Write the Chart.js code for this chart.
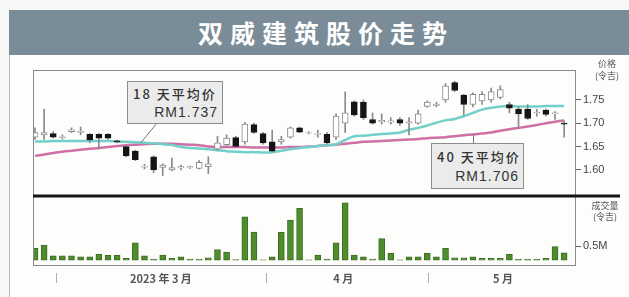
<!DOCTYPE html>
<html><head><meta charset="utf-8">
<script src="https://cdn.jsdelivr.net/npm/chart.js@4"></script>
<style>
html,body{margin:0;padding:0;background:#f8f8f7;}
#wrap{position:relative;width:629px;height:297px;overflow:hidden;}
#title{position:absolute;left:9px;top:10px;width:620px;height:45px;background:#7b8c99;color:#fff;font:700 25px "Noto Sans CJK SC";letter-spacing:7px;text-align:center;line-height:45px;text-indent:14px;}
#panel{position:absolute;left:9px;top:55px;width:620px;height:242px;background:#fdfdfc;border-left:1px solid #b8b8b8;}
canvas{position:absolute;left:0;top:0;}
.box{position:absolute;background:#ebebeb;border:1px solid #8c8c8c;color:#333;}
.l1{position:absolute;left:5px;font:500 13px "Noto Sans CJK SC";letter-spacing:2px;white-space:nowrap;}
.l2{position:absolute;right:4px;font:500 14px "Liberation Sans";letter-spacing:1px;white-space:nowrap;}
.ax{position:absolute;color:#555;font:9px "Noto Sans CJK SC";white-space:nowrap;text-align:center;}
</style></head>
<body><div id="wrap">
<div id="title">双威建筑股价走势</div>
<div id="panel"></div>
<canvas id="c" width="629" height="297"></canvas>
<div class="box" style="left:127px;top:81px;width:94px;height:41px;">
  <div class="l1" style="top:2px;">18 天平均价</div>
  <div class="l2" style="top:22px;">RM1.737</div>
</div>
<div class="box" style="left:431px;top:143px;width:91px;height:44px;">
  <div class="l1" style="top:3px;">40 天平均价</div>
  <div class="l2" style="top:24px;">RM1.706</div>
</div>
<div class="ax" style="left:592px;top:57px;width:30px;">价格</div>
<div class="ax" style="left:590px;top:69px;width:34px;">(令吉)</div>
<div class="ax" style="left:588px;top:199px;width:34px;">成交量</div>
<div class="ax" style="left:588px;top:210px;width:34px;">(令吉)</div>
</div>
<script>
const openP = [1.670,1.675,1.678,1.669,1.682,1.680,1.676,1.676,1.676,1.662,
  1.650,1.640,1.606,1.628,1.605,1.600,1.604,1.605,1.603,1.607,
  1.645,1.654,1.669,1.660,1.697,1.678,1.660,1.660,1.670,1.690,
  1.679,1.676,1.676,1.670,1.700,1.746,1.745,1.708,1.703,1.702,
  1.708,1.700,1.700,1.736,1.738,1.750,1.787,1.760,1.740,1.748,
  1.750,1.755,1.740,1.730,1.730,1.722,1.728,1.720,1.700];
const highP = [1.690,1.730,1.682,1.675,1.690,1.692,1.678,1.678,1.678,1.664,
  1.652,1.642,1.612,1.630,1.613,1.625,1.610,1.608,1.620,1.628,
  1.672,1.675,1.672,1.702,1.700,1.680,1.685,1.672,1.692,1.692,
  1.682,1.685,1.680,1.720,1.767,1.748,1.750,1.722,1.720,1.712,
  1.712,1.712,1.728,1.748,1.745,1.785,1.790,1.762,1.765,1.768,
  1.775,1.780,1.745,1.735,1.740,1.730,1.730,1.725,1.705];
const lowP = [1.665,1.665,1.668,1.666,1.680,1.675,1.658,1.645,1.665,1.658,
  1.628,1.620,1.602,1.594,1.588,1.598,1.600,1.603,1.602,1.592,
  1.642,1.652,1.648,1.655,1.678,1.655,1.638,1.655,1.668,1.680,
  1.677,1.670,1.655,1.665,1.680,1.715,1.708,1.698,1.698,1.698,
  1.695,1.675,1.698,1.734,1.735,1.745,1.768,1.718,1.735,1.740,
  1.745,1.752,1.722,1.688,1.708,1.715,1.715,1.708,1.670];
const closeP = [1.680,1.680,1.670,1.671,1.686,1.683,1.664,1.668,1.668,1.660,
  1.630,1.622,1.608,1.600,1.610,1.605,1.607,1.607,1.616,1.613,
  1.658,1.668,1.650,1.698,1.680,1.658,1.640,1.665,1.690,1.681,
  1.680,1.678,1.658,1.715,1.722,1.718,1.712,1.700,1.706,1.705,
  1.700,1.703,1.720,1.745,1.741,1.780,1.770,1.740,1.762,1.762,
  1.768,1.772,1.732,1.720,1.710,1.724,1.719,1.722,1.698];
const volumeM = [0.42,0.54,0.15,0.15,0.15,0.12,0.12,0.21,0.17,0.17,
  0.06,0.62,0.15,0.04,0.18,0.06,0.12,0.04,0.03,0.08,
  0.38,0.29,0.02,1.55,1.00,0.01,0.12,0.99,1.43,1.85,
  0.01,0.18,0.04,0.62,2.05,0.18,0.12,0.04,0.77,0.24,
  0.01,0.12,0.12,0.24,0.12,0.42,0.08,0.08,0.12,0.06,
  0.06,0.06,0.21,0.03,0.03,0.03,0.06,0.48,0.26];
const ma18 = [1.661,1.661,1.662,1.662,1.662,1.662,1.662,1.662,1.662,1.661,
  1.660,1.659,1.658,1.657,1.655,1.653,1.649,1.647,1.646,1.644,
  1.642,1.640,1.639,1.638,1.638,1.637,1.638,1.641,1.644,1.647,
  1.649,1.651,1.653,1.655,1.664,1.672,1.673,1.675,1.677,1.678,
  1.680,1.686,1.690,1.695,1.701,1.706,1.709,1.715,1.722,1.729,
  1.733,1.736,1.737,1.736,1.736,1.736,1.737,1.737,1.737];
const ma40 = [1.630,1.633,1.636,1.639,1.641,1.643,1.645,1.647,1.649,1.651,
  1.653,1.654,1.655,1.656,1.656,1.656,1.655,1.654,1.653,1.650,
  1.649,1.649,1.649,1.649,1.648,1.648,1.648,1.648,1.649,1.649,
  1.650,1.651,1.653,1.654,1.656,1.658,1.660,1.661,1.662,1.663,
  1.664,1.665,1.666,1.668,1.669,1.670,1.672,1.674,1.676,1.678,
  1.680,1.684,1.687,1.690,1.693,1.696,1.700,1.703,1.706];
const priceTicks = [1.60, 1.65, 1.70, 1.75];
const volumeTicks = [0.5];
const monthLabels = ['2023 年 3 月', '4 月', '5 月'];
const monthLabelPos = [13.8, 33.8, 51.3];
const monthBounds = [2.3, 25.3, 43.1];

const days = openP.map((_, i) => i);
const isDown = i => closeP[i] < openP[i];

const framePlugin = {
  id: 'frame',
  afterDraw(chart) {
    const ctx = chart.ctx;
    const {left, right, top, bottom} = chart.chartArea;
    const x = chart.scales.x, yP = chart.scales.yP;
    ctx.save();
    ctx.strokeStyle = '#8a8a8a';
    ctx.lineWidth = 1;
    ctx.strokeRect(left + 0.5, top + 0.5, right - left - 1, bottom - top - 1);
    ctx.strokeStyle = '#151515';
    ctx.lineWidth = 3;
    ctx.beginPath();
    ctx.moveTo(left, yP.bottom);
    ctx.lineTo(620, yP.bottom);
    ctx.stroke();
    ctx.strokeStyle = '#b0b0b0';
    ctx.lineWidth = 1;
    monthBounds.forEach(v => {
      const px = Math.round(x.getPixelForValue(v)) + 0.5;
      ctx.beginPath();
      ctx.moveTo(px, bottom + 7);
      ctx.lineTo(px, bottom + 17);
      ctx.stroke();
    });
    ctx.strokeStyle = '#777';
    ctx.lineWidth = 1;
    ctx.beginPath();
    ctx.moveTo(157, 123);
    ctx.lineTo(x.getPixelForValue(11.6), yP.getPixelForValue(ma18[12]));
    ctx.stroke();
    ctx.beginPath();
    ctx.moveTo(Math.round(x.getPixelForValue(48)) + 0.5, 143);
    ctx.lineTo(Math.round(x.getPixelForValue(48)) + 0.5, yP.getPixelForValue(ma40[48]));
    ctx.stroke();
    ctx.restore();
  }
};

new Chart(document.getElementById('c'), {
  type: 'bar',
  data: {
    datasets: [
      {
        type: 'bar', label: 'body', yAxisID: 'yP', grouped: false, order: 1,
        data: days.map(i => ({x: i, y: [openP[i], closeP[i]]})),
        barThickness: 6, borderSkipped: false, borderWidth: 1,
        backgroundColor: c => isDown(c.dataIndex) ? '#151515' : '#ffffff',
        borderColor: c => isDown(c.dataIndex) ? '#151515' : '#8a8a8a'
      },
      {
        type: 'bar', label: 'wick', yAxisID: 'yP', grouped: false, order: 2,
        data: days.map(i => ({x: i, y: [lowP[i], highP[i]]})),
        barThickness: 1, borderSkipped: false, borderWidth: 0,
        backgroundColor: '#8a8a8a'
      },
      {
        type: 'line', label: '18天平均价', yAxisID: 'yP', order: 3,
        data: days.map(i => ({x: i, y: ma18[i]})),
        borderColor: '#72cfca', borderWidth: 2.5, pointRadius: 0, tension: 0.35, fill: false
      },
      {
        type: 'line', label: '40天平均价', yAxisID: 'yP', order: 4,
        data: days.map(i => ({x: i, y: ma40[i]})),
        borderColor: '#cf6fa6', borderWidth: 2.5, pointRadius: 0, tension: 0.35, fill: false
      },
      {
        type: 'bar', label: '成交量', yAxisID: 'yV', grouped: false, order: 5,
        data: days.map(i => ({x: i, y: volumeM[i]})),
        barThickness: 6, borderSkipped: false, borderWidth: 1,
        backgroundColor: '#4f8c2c', borderColor: '#3c6e22'
      }
    ]
  },
  options: {
    responsive: false, animation: false,
    layout: {padding: {left: 33, top: 70, right: 0, bottom: 0}},
    plugins: {legend: {display: false}, tooltip: {enabled: false}},
    scales: {
      x: {
        type: 'linear', min: -0.22, max: 59.3, offset: false,
        grid: {display: false, drawTicks: false, offset: false}, border: {display: false},
        afterBuildTicks: s => { s.ticks = monthLabelPos.map(v => ({value: v})); },
        afterFit: s => { s.height = 31; },
        ticks: {autoSkip: false, maxRotation: 0, padding: 6, color: '#555',
          font: {family: 'Noto Sans CJK SC', size: 11, weight: '600'},
          callback: (v, idx) => monthLabels[idx]}
      },
      yP: {
        type: 'linear', position: 'right', stack: 'main', stackWeight: 126, weight: 1,
        min: 1.544, max: 1.814,
        afterBuildTicks: s => { s.ticks = priceTicks.map(v => ({value: v})); },
        afterFit: s => { s.width = 53; },
        grid: {drawOnChartArea: false, drawTicks: true, tickLength: 5, tickColor: '#666'},
        border: {display: false},
        ticks: {padding: 2, color: '#444', font: {family: 'Liberation Sans', size: 11},
          callback: v => Number(v).toFixed(2)}
      },
      yV: {
        type: 'linear', position: 'right', stack: 'main', stackWeight: 70, weight: 2,
        min: -0.21, max: 2.29,
        afterBuildTicks: s => { s.ticks = volumeTicks.map(v => ({value: v})); },
        afterFit: s => { s.width = 53; },
        grid: {drawOnChartArea: false, drawTicks: true, tickLength: 5, tickColor: '#666'},
        border: {display: false},
        ticks: {padding: 2, color: '#444', font: {family: 'Liberation Sans', size: 11},
          callback: v => v + 'M'}
      }
    }
  },
  plugins: [framePlugin]
});
</script>
</body></html>
